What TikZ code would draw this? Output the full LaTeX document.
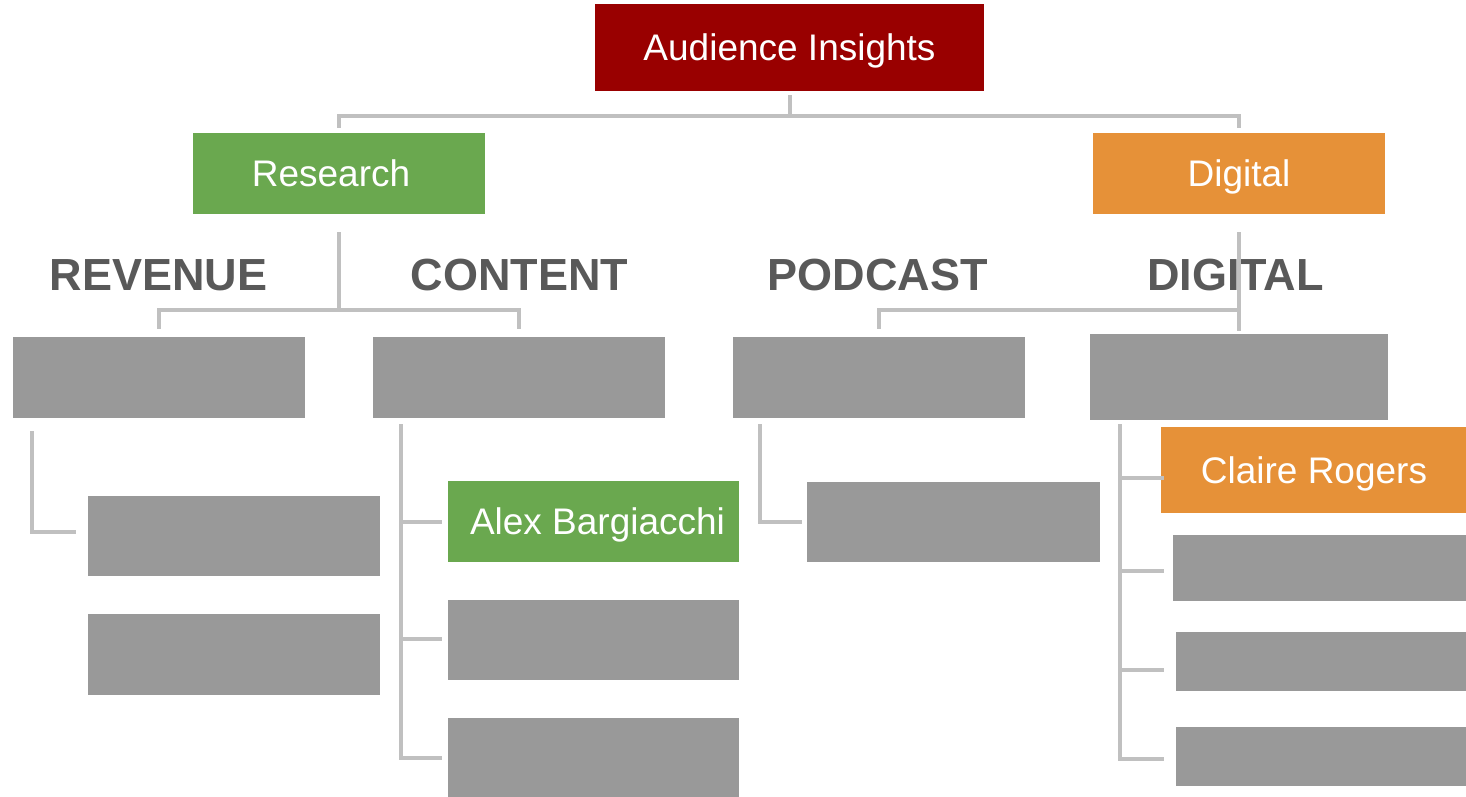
\documentclass[tikz,border=0pt]{standalone}
\usepackage{fontspec}
\setmainfont{Liberation Sans}
\definecolor{topred}{HTML}{990000}
\definecolor{leafgreen}{HTML}{6AA84F}
\definecolor{leaforange}{HTML}{E69138}
\definecolor{boxgray}{HTML}{999999}
\definecolor{linegray}{HTML}{C0C0C0}
\definecolor{headgray}{HTML}{595959}
\tikzset{
  box/.style={rectangle, inner sep=0pt, minimum width=292pt, minimum height=81pt,
    text=white, font=\fontsize{37}{44}\selectfont, text height=26.5pt, text depth=0pt},
  graybox/.style={box, fill=boxgray},
  heading/.style={inner sep=0pt, text=headgray, font=\fontsize{45}{54}\selectfont\bfseries,
    text height=32pt, text depth=0pt},
  conn/.style={draw=linegray, line width=4pt}
}
\begin{document}
\begin{tikzpicture}[x=1pt, y=-1pt]
\useasboundingbox (0,0) rectangle (1466,796);

% top level and the two departments
\node[box, fill=topred, minimum width=389pt, minimum height=87pt] (top) at (789.5,47.5) {Audience Insights};
\node[box, fill=leafgreen] (research) at (339,173.5) {\hspace{-16pt}Research};
\node[box, fill=leaforange] (digital) at (1239,173.5) {Digital};

% team headings
\node[heading] (hrev) at (158.5,274) {REVENUE};
\node[heading] (hcon) at (519.5,274) {CONTENT};
\node[heading] (hpod) at (877.5,274) {PODCAST};
\node[heading] (hdig) at (1235.5,274) {DIGITAL};

% team leads
\node[graybox] (g1) at (159,377.5) {};
\node[graybox] (g2) at (519,377.5) {};
\node[graybox] (g3) at (879,377.5) {};
\node[graybox, minimum width=298pt, minimum height=86pt] (g4) at (1239,377) {};

% revenue members
\node[graybox, minimum height=80pt] (r1) at (234,536) {};
\node[graybox] (r2) at (234,654.5) {};

% content members
\node[box, fill=leafgreen, minimum width=291pt] (alex) at (593.5,521.5) {\hspace{8pt}Alex Bargiacchi};
\node[graybox, minimum width=291pt, minimum height=80pt] (c2) at (593.5,640) {};
\node[graybox, minimum width=291pt, minimum height=80pt] (c3) at (593.5,757.5) {};

% podcast member
\node[graybox, minimum width=293pt, minimum height=80pt] (p1) at (953.5,522) {};

% digital members
\node[box, fill=leaforange, minimum width=306pt, minimum height=86pt] (claire) at (1314,470) {Claire Rogers};
\node[graybox, minimum width=294pt, minimum height=66pt] (d2) at (1320,568) {};
\node[graybox, minimum width=292pt, minimum height=59pt] (d3) at (1322,661.5) {};
\node[graybox, minimum width=292pt, minimum height=59pt] (d4) at (1322,756.5) {};

% connectors: top level
\draw[conn] ([yshift=-4pt]top.south) -- ++(0,21);
\draw[conn] ([yshift=5pt]research.north) -- ++(0,-12) -| ([yshift=5pt]digital.north);

% connectors: departments to team leads
\draw[conn] ([yshift=-18pt]research.south) -- ++(0,78);
\draw[conn] ([yshift=8pt]g1.north) -- ++(0,-19) -| ([yshift=8pt]g2.north);
\draw[conn] ([yshift=-18pt]digital.south) -- ([yshift=3pt]g4.north);
\draw[conn] ([yshift=8pt]g3.north) |- ([yshift=-96pt]digital.south);

% connectors: team leads to members
\draw[conn] ([xshift=19pt,yshift=-13pt]g1.south west) |- ([xshift=-12pt,yshift=4pt]r1.west);

\draw[conn] ([xshift=28pt,yshift=-6pt]g2.south west) |- ([xshift=-6pt]c3.west);
\draw[conn] ([xshift=-6pt]alex.west) -- ++(-41,0);
\draw[conn] ([xshift=-6pt,yshift=1pt]c2.west) -- ++(-41,0);

\draw[conn] ([xshift=27pt,yshift=-6pt]g3.south west) |- ([xshift=-5pt]p1.west);

\draw[conn] ([xshift=30pt,yshift=-4pt]g4.south west) |- ([xshift=-12pt,yshift=-2.5pt]d4.west);
\draw[conn] ([xshift=3pt,yshift=-8pt]claire.west) -- ++(-44,0);
\draw[conn] ([xshift=-9pt,yshift=-3pt]d2.west) -- ++(-44,0);
\draw[conn] ([xshift=-12pt,yshift=-8.5pt]d3.west) -- ++(-44,0);
\end{tikzpicture}
\end{document}
